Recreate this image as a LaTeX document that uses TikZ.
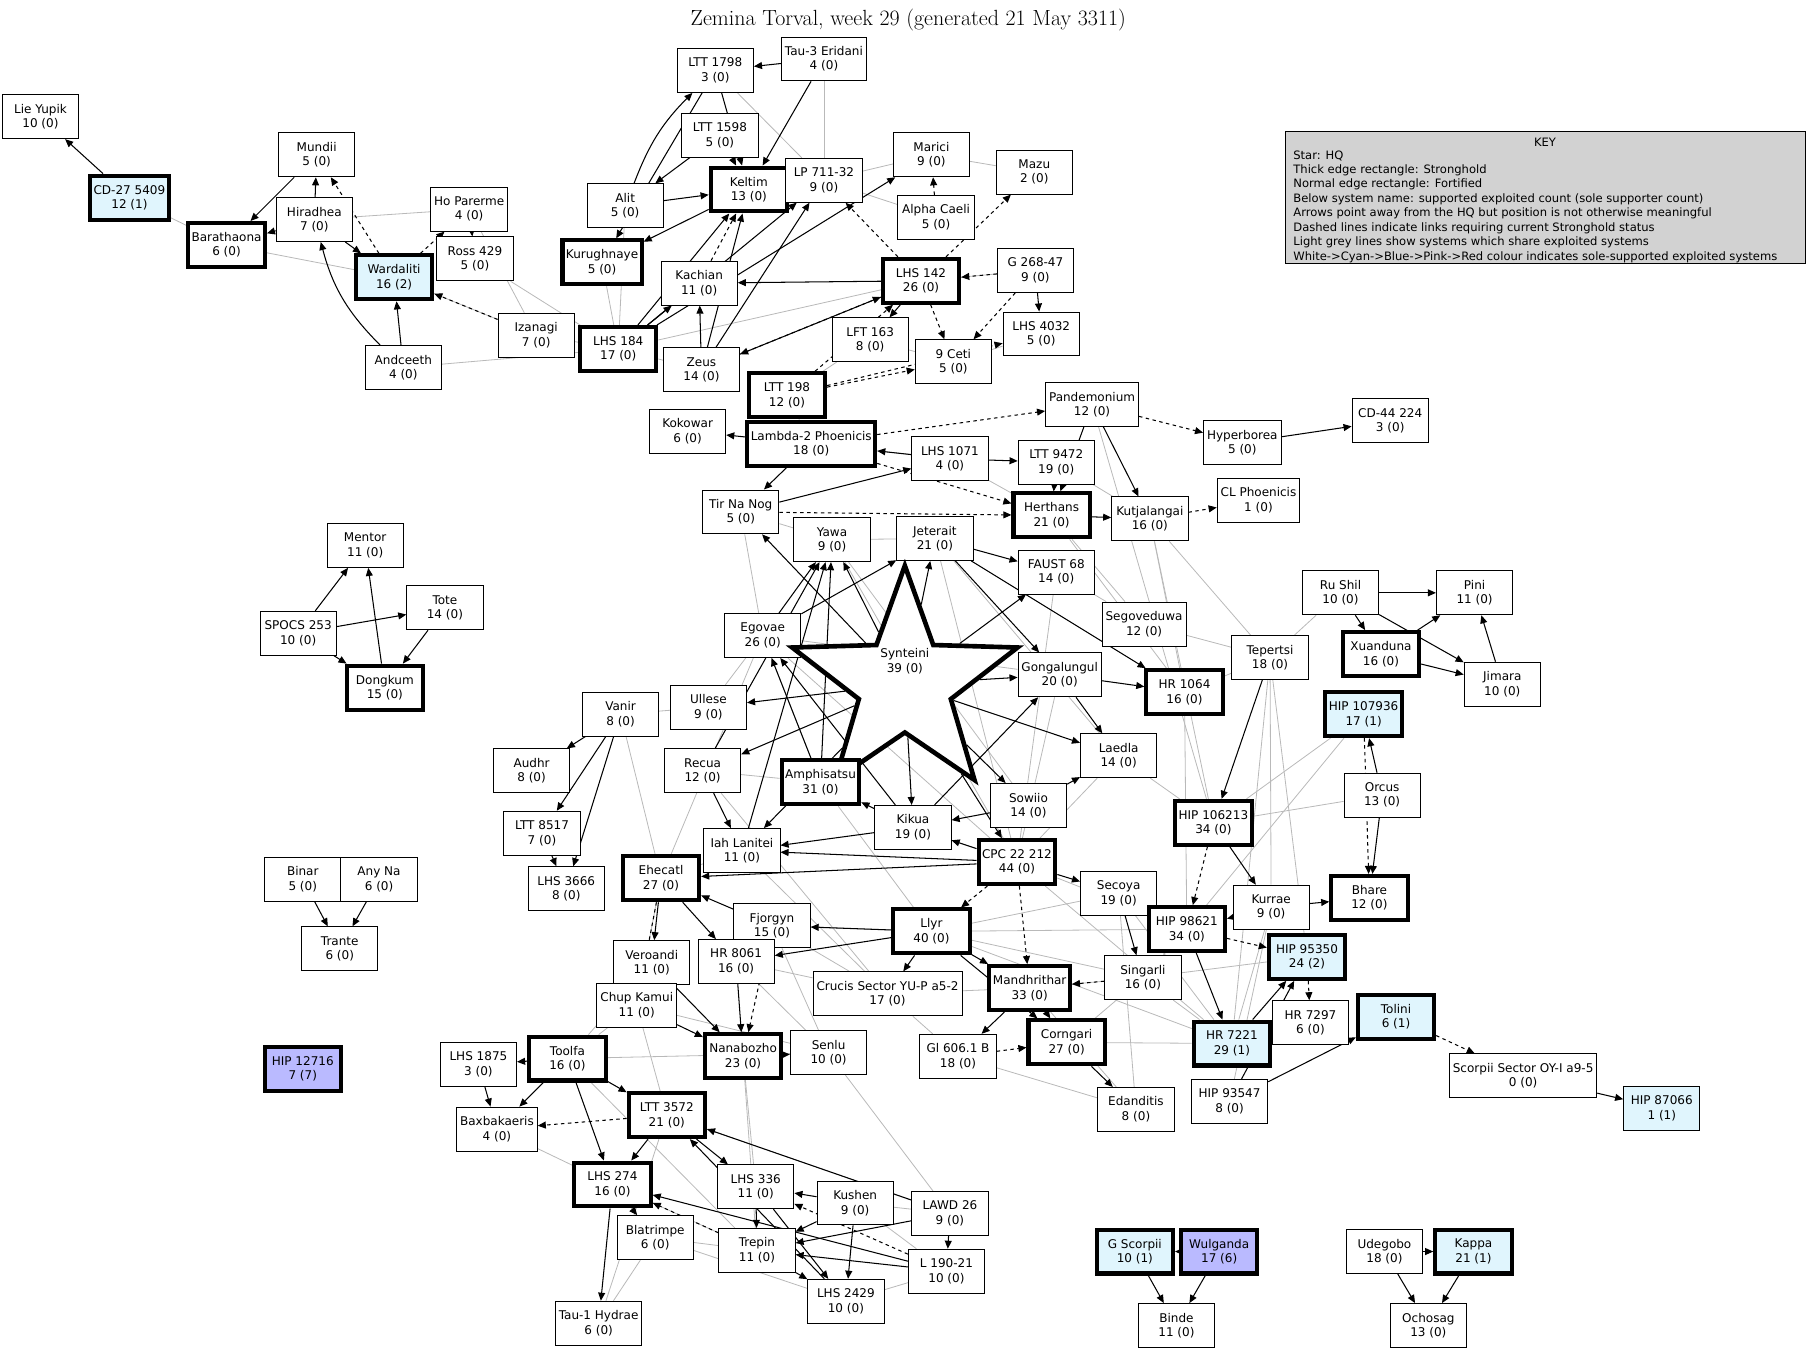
\documentclass[tikz,border=0pt]{standalone}
\usepackage{fontspec}
\setmainfont{DejaVu Sans}
\newfontfamily\titlefont{Latin Modern Roman}
\usetikzlibrary{shapes.geometric,arrows.meta}
\pgfdeclarelayer{bg}
\pgfsetlayers{bg,main}
\newcommand\N[5]{\node[#4] (#1) at (#2,#3) {#5};}
\tikzset{
 f/.style={draw,fill=white,line width=0.8pt,minimum width=66pt,minimum height=38pt,inner sep=3pt,align=center,font=\fontsize{10.4}{12.5}\selectfont},
 s/.style={f,line width=3.5pt},
 cy/.style={fill=cyan!12},
 bl/.style={fill=blue!27},
 blk/.style={line width=0.9pt,-{Triangle[length=7pt,width=6pt]}},
 dsh/.style={blk,dashed},
 gr/.style={gray!55,line width=0.7pt},
}
\begin{document}
\begin{tikzpicture}[x=1pt,y=-1pt]
\useasboundingbox (0,0) rectangle (1568,1174);
\node[font=\titlefont\fontsize{19}{21}\selectfont] at (786,17) {Zemina Torval, week 29 (generated 21 May 3311)};
\node[draw,fill=gray!35,line width=0.8pt,minimum width=450pt,minimum height=114pt] (key) at (1337,171) {};
\node[font=\fontsize{10}{12.5}\selectfont] at (1337,123) {KEY};
\node[align=left,anchor=north west,font=\fontsize{10}{12.5}\selectfont,inner sep=0pt] at (1119,130) {Star: HQ\\Thick edge rectangle: Stronghold\\Normal edge rectangle: Fortified\\Below system name: supported exploited count (sole supporter count)\\Arrows point away from the HQ but position is not otherwise meaningful\\Dashed lines indicate links requiring current Stronghold status\\Light grey lines show systems which share exploited systems\\White->Cyan->Blue->Pink->Red colour indicates sole-supported exploited systems};
\N{lie}{35}{101}{f}{Lie Yupik\\10 (0)}
\N{cd27}{112}{171}{s,cy}{CD-27 5409\\12 (1)}
\N{mun}{274}{134}{f}{Mundii\\5 (0)}
\N{bar}{196}{212}{s}{Barathaona\\6 (0)}
\N{hir}{272}{190}{f}{Hiradhea\\7 (0)}
\N{hop}{406}{181}{f}{Ho Parerme\\4 (0)}
\N{war}{341}{240}{s,cy}{Wardaliti\\16 (2)}
\N{ros}{411}{224}{f}{Ross 429\\5 (0)}
\N{iza}{464}{290}{f}{Izanagi\\7 (0)}
\N{and}{349}{318}{f}{Andceeth\\4 (0)}
\N{l1798}{619}{61}{f}{LTT 1798\\3 (0)}
\N{tau3}{713}{51}{f}{Tau-3 Eridani\\4 (0)}
\N{l1598}{623}{117}{f}{LTT 1598\\5 (0)}
\N{alit}{541}{178}{f}{Alit\\5 (0)}
\N{kel}{648}{164}{s}{Keltim\\13 (0)}
\N{lp711}{713}{156}{f}{LP 711-32\\9 (0)}
\N{mar}{806}{134}{f}{Marici\\9 (0)}
\N{mazu}{895}{149}{f}{Mazu\\2 (0)}
\N{kur}{521}{227}{s}{Kurughnaye\\5 (0)}
\N{alp}{810}{188}{f}{Alpha Caeli\\5 (0)}
\N{kac}{605}{245}{f}{Kachian\\11 (0)}
\N{l142}{797}{243}{s}{LHS 142\\26 (0)}
\N{g268}{896}{234}{f}{G 268-47\\9 (0)}
\N{l184}{535}{302}{s}{LHS 184\\17 (0)}
\N{lft}{753}{294}{f}{LFT 163\\8 (0)}
\N{zeus}{607}{320}{f}{Zeus\\14 (0)}
\N{l4032}{901}{289}{f}{LHS 4032\\5 (0)}
\N{ceti}{825}{313}{f}{9 Ceti\\5 (0)}
\N{l198}{681}{342}{s}{LTT 198\\12 (0)}
\N{kok}{595}{373}{f}{Kokowar\\6 (0)}
\N{pan}{945}{350}{f}{Pandemonium\\12 (0)}
\N{lam}{702}{384}{s}{Lambda-2 Phoenicis\\18 (0)}
\N{l1071}{822}{397}{f}{LHS 1071\\4 (0)}
\N{l9472}{914}{400}{f}{LTT 9472\\19 (0)}
\N{hyp}{1075}{383}{f}{Hyperborea\\5 (0)}
\N{cd44}{1203}{364}{f}{CD-44 224\\3 (0)}
\N{clp}{1089}{433}{f}{CL Phoenicis\\1 (0)}
\N{tir}{641}{443}{f}{Tir Na Nog\\5 (0)}
\N{her}{910}{446}{s}{Herthans\\21 (0)}
\N{kut}{995}{449}{f}{Kutjalangai\\16 (0)}
\N{yawa}{720}{467}{f}{Yawa\\9 (0)}
\N{jet}{809}{466}{f}{Jeterait\\21 (0)}
\N{faust}{914}{495}{f}{FAUST 68\\14 (0)}
\N{ment}{316}{472}{f}{Mentor\\11 (0)}
\N{tote}{385}{526}{f}{Tote\\14 (0)}
\N{spocs}{258}{548}{f}{SPOCS 253\\10 (0)}
\N{dong}{333}{595}{s}{Dongkum\\15 (0)}
\N{ego}{660}{550}{f}{Egovae\\26 (0)}
\node[star,star points=5,star point ratio=2.45,draw,fill=white,line width=4pt,minimum size=205pt,inner sep=0pt] (syn) at (783,592) {};
\node[align=center,font=\fontsize{10.4}{12.5}\selectfont] at (783,572) {Synteini\\39 (0)};
\N{seg}{990}{540}{f}{Segoveduwa\\12 (0)}
\N{gon}{917}{584}{f}{Gongalungul\\20 (0)}
\N{hr1064}{1025}{599}{s}{HR 1064\\16 (0)}
\N{rus}{1160}{513}{f}{Ru Shil\\10 (0)}
\N{pini}{1276}{513}{f}{Pini\\11 (0)}
\N{tep}{1099}{569}{f}{Tepertsi\\18 (0)}
\N{xua}{1195}{566}{s}{Xuanduna\\16 (0)}
\N{jim}{1300}{592}{f}{Jimara\\10 (0)}
\N{h107}{1180}{618}{s,cy}{HIP 107936\\17 (1)}
\N{van}{537}{618}{f}{Vanir\\8 (0)}
\N{ull}{613}{612}{f}{Ullese\\9 (0)}
\N{lae}{968}{654}{f}{Laedla\\14 (0)}
\N{aud}{460}{667}{f}{Audhr\\8 (0)}
\N{rec}{608}{667}{f}{Recua\\12 (0)}
\N{amp}{710}{677}{s}{Amphisatsu\\31 (0)}
\N{sow}{890}{697}{f}{Sowiio\\14 (0)}
\N{orc}{1196}{688}{f}{Orcus\\13 (0)}
\N{h106}{1050}{712}{s}{HIP 106213\\34 (0)}
\N{l8517}{469}{721}{f}{LTT 8517\\7 (0)}
\N{kik}{790}{716}{f}{Kikua\\19 (0)}
\N{iah}{642}{736}{f}{Iah Lanitei\\11 (0)}
\N{cpc}{880}{746}{s}{CPC 22 212\\44 (0)}
\N{sec}{968}{773}{f}{Secoya\\19 (0)}
\N{kr}{1100}{785}{f}{Kurrae\\9 (0)}
\N{bha}{1185}{777}{s}{Bhare\\12 (0)}
\N{bin}{262}{761}{f}{Binar\\5 (0)}
\N{any}{328}{761}{f}{Any Na\\6 (0)}
\N{l3666}{490}{769}{f}{LHS 3666\\8 (0)}
\N{ehe}{572}{760}{s}{Ehecatl\\27 (0)}
\N{fjo}{668}{801}{f}{Fjorgyn\\15 (0)}
\N{tra}{294}{821}{f}{Trante\\6 (0)}
\N{llyr}{806}{806}{s}{Llyr\\40 (0)}
\N{h98}{1027}{804}{s}{HIP 98621\\34 (0)}
\N{h95}{1131}{828}{s,cy}{HIP 95350\\24 (2)}
\N{ver}{564}{833}{f}{Veroandi\\11 (0)}
\N{hr8061}{637}{832}{f}{HR 8061\\16 (0)}
\N{sin}{989}{846}{f}{Singarli\\16 (0)}
\N{man}{891}{855}{s}{Mandhrithar\\33 (0)}
\N{chup}{551}{870}{f}{Chup Kamui\\11 (0)}
\N{cru}{768}{860}{f}{Crucis Sector YU-P a5-2\\17 (0)}
\N{tol}{1208}{880}{s,cy}{Tolini\\6 (1)}
\N{hr7297}{1134}{885}{f}{HR 7297\\6 (0)}
\N{hr7221}{1066}{903}{s,cy}{HR 7221\\29 (1)}
\N{cor}{923}{902}{s}{Corngari\\27 (0)}
\N{gl606}{829}{914}{f}{Gl 606.1 B\\18 (0)}
\N{sco}{1318}{931}{f}{Scorpii Sector OY-I a9-5\\0 (0)}
\N{too}{491}{916}{s}{Toolfa\\16 (0)}
\N{l1875}{414}{921}{f}{LHS 1875\\3 (0)}
\N{nan}{643}{914}{s}{Nanabozho\\23 (0)}
\N{sen}{717}{911}{f}{Senlu\\10 (0)}
\N{h127}{262}{925}{s,bl}{HIP 12716\\7 (7)}
\N{h93}{1064}{953}{f}{HIP 93547\\8 (0)}
\N{eda}{983}{960}{f}{Edanditis\\8 (0)}
\N{h87}{1438}{959}{f,cy}{HIP 87066\\1 (1)}
\N{l3572}{577}{965}{s}{LTT 3572\\21 (0)}
\N{bax}{430}{977}{f}{Baxbakaeris\\4 (0)}
\N{l274}{530}{1025}{s}{LHS 274\\16 (0)}
\N{l336}{654}{1027}{f}{LHS 336\\11 (0)}
\N{kus}{740}{1041}{f}{Kushen\\9 (0)}
\N{lawd}{822}{1050}{f}{LAWD 26\\9 (0)}
\N{bla}{567}{1071}{f}{Blatrimpe\\6 (0)}
\N{tre}{655}{1082}{f}{Trepin\\11 (0)}
\N{l190}{819}{1100}{f}{L 190-21\\10 (0)}
\N{l2429}{732}{1126}{f}{LHS 2429\\10 (0)}
\N{tau1}{518}{1145}{f}{Tau-1 Hydrae\\6 (0)}
\N{gsc}{982}{1083}{s,cy}{G Scorpii\\10 (1)}
\N{wul}{1055}{1083}{s,bl}{Wulganda\\17 (6)}
\N{bind}{1018}{1147}{f}{Binde\\11 (0)}
\N{ude}{1198}{1083}{f}{Udegobo\\18 (0)}
\N{kap}{1275}{1083}{s,cy}{Kappa\\21 (1)}
\N{och}{1236}{1147}{f}{Ochosag\\13 (0)}
\begin{pgfonlayer}{bg}
\foreach \a/\b in {cd27/bar,bar/war,hir/hop,war/iza,hop/iza,ros/l184,and/l184,iza/l184,kur/l184,l1798/lp711,tau3/lp711,kel/lp711,lp711/mar,mar/mazu,lp711/alp,alit/l184,kac/l184,zeus/l184,l184/l142,lft/l198,l142/g268,ceti/l4032,lft/ceti,l198/lam,lam/l1071,l1071/her,l9472/kut,kut/tep,her/seg,kut/hr1064,tir/ego,tir/yawa,yawa/jet,faust/seg,seg/tep,tep/hr1064,rus/tep,lae/h106,h106/h107,h106/orc,kr/hr7221,h98/sin,sin/hr7221,sin/h95,sec/eda,man/eda,cor/hr7221,cpc/hr7221,gl606/eda,cru/man,cru/gl606,ull/ego,ull/van,van/ehe,ego/ehe,iah/ehe,hr8061/sen,chup/sen,fjo/sen,nan/l336,too/sen,bax/l274,bla/tau1,bla/tre,kus/l190,lawd/kus,l2429/l190,tau1/l3572,ehe/chup,chup/too,ego/amp,rec/amp,amp/kik,kik/cpc,ego/cpc,yawa/cpc,jet/cpc,gon/cpc,lae/cpc,jet/lae,yawa/sow,ego/gon,faust/cpc,fjo/llyr,llyr/sec,llyr/sin,llyr/h98,cpc/h98,llyr/hr7221,man/sin,sec/hr7221,tep/kr,tep/hr7221,h107/h98,tep/h95,kr/h93,hr1064/h98,her/hr1064,kut/h106,pan/h106,amp/llyr,rec/cru,iah/cru,fjo/cru,hr8061/cru,ver/too,chup/l3572,sen/lawd,too/tre,l3572/lawd,l274/tre,bla/l2429,nan/tre,cor/sin}
  \draw[gr] (\a) -- (\b);
\foreach \a/\b in {cd27/lie,hir/mun,mun/bar,hir/bar,hir/war,hop/ros,and/war,alit/kel,l1598/alit,tau3/l1798,l1798/kel,tau3/kel,kel/kur,l1798/kur,zeus/kel,zeus/lp711,l184/kel,l184/kac,l184/lp711,l184/mar,l142/kac,l142/lft,g268/l4032,l142/zeus,zeus/kac,lam/kok,l1071/lam,l1071/l9472,pan/her,pan/kut,hyp/cd44,l9472/her,tir/l1071,her/kut,lam/tir,spocs/ment,spocs/tote,tote/dong,dong/ment,spocs/dong,van/aud,van/l8517,van/l3666,l8517/l3666,bin/any,bin/tra,any/tra,syn/tir,syn/yawa,syn/jet,syn/ego,syn/ull,syn/rec,syn/amp,syn/kik,syn/cpc,syn/sow,syn/gon,syn/faust,syn/lae,syn/iah,jet/faust,jet/gon,jet/hr1064,ego/yawa,ego/jet,rec/yawa,amp/yawa,amp/ego,kik/ego,iah/yawa,kik/amp,sow/kik,cpc/kik,cpc/iah,cpc/ehe,cpc/sec,kik/iah,rec/iah,gon/hr1064,gon/lae,sow/lae,kik/gon,llyr/fjo,llyr/cru,llyr/hr8061,llyr/man,llyr/cor,fjo/ehe,ehe/ver,ehe/hr8061,ver/chup,chup/nan,hr8061/nan,nan/sen,ver/nan,man/gl606,man/cor,cor/eda,sec/h98,sec/sin,h106/kr,tep/h106,h98/hr7221,hr7221/h95,h93/h95,h93/tol,sco/h87,kr/bha,orc/bha,orc/h107,kr/h98,rus/pini,rus/jim,rus/xua,xua/jim,xua/pini,jim/pini,too/l1875,too/l3572,too/bax,l1875/bax,too/l274,l3572/l274,l3572/l336,l274/tau1,l274/bla,kus/l336,kus/tre,lawd/l3572,lawd/l190,lawd/tre,l190/tre,kus/l2429,l336/tre,tre/l2429,l190/l274,l336/l2429,l2429/l3572,wul/gsc,gsc/bind,wul/bind,ude/kap,ude/och,kap/och}
  \draw[blk] (\a) -- (\b);
\draw[blk] (alit) to[bend left=12] (l1798);
\draw[blk] (and) to[bend left=15] (hir);
\foreach \a/\b in {war/mun,war/hop,iza/war,l1598/kel,kac/kel,l142/lp711,alp/mar,l142/ceti,g268/l142,l198/ceti,l198/l4032,l142/mazu,zeus/l142,l198/l142,g268/ceti,lam/pan,pan/hyp,kut/clp,lam/her,tir/her,h107/bha,h106/h98,h98/h95,h95/hr7297,tol/sco,sin/man,cpc/llyr,cpc/man,ehe/chup,fjo/nan,gl606/cor,l3572/bax,l190/l336,tre/l274}
  \draw[dsh] (\a) -- (\b);
\end{pgfonlayer}
\end{tikzpicture}
\end{document}
